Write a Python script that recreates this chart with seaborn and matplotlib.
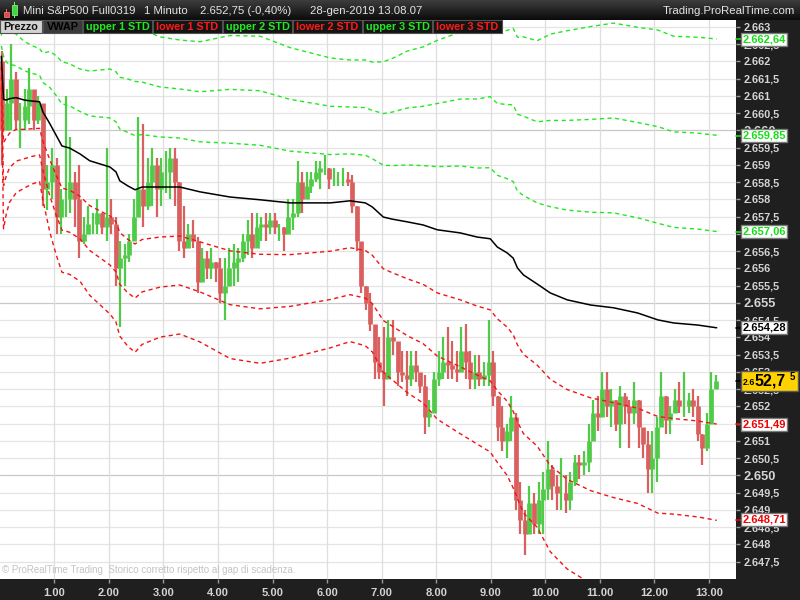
import numpy as np
import matplotlib
matplotlib.use("Agg")
import matplotlib.pyplot as plt
import seaborn as sns
from matplotlib.patches import Rectangle
from matplotlib.lines import Line2D
from matplotlib.colors import LinearSegmentedColormap

# ---------------- data ----------------
BAR_MIN = 5            # minutes per bar
first_open = 2662.0

# 5-minute bars from 0.00 to 13.08 (high, low, close), one row per hour
hi = [2662.3, 2661.2, 2662.5, 2661.7, 2660.8, 2661.2, 2661.8, 2661.0, 2661.0, 2660.2, 2659.0, 2659.5,
      2659.2, 2658.3, 2661.0, 2659.8, 2658.8, 2659.0, 2657.5, 2657.8, 2657.6, 2658.0, 2657.6, 2659.5,
      2658.0, 2657.5, 2656.8, 2656.7, 2657.0, 2658.0, 2660.4, 2660.2, 2659.2, 2659.5, 2659.2, 2659.2,
      2659.4, 2659.5, 2659.5, 2658.5, 2657.8, 2657.3, 2657.4, 2656.9, 2656.6, 2656.5, 2656.6, 2656.2,
      2656.3, 2656.3, 2656.6, 2656.7, 2656.6, 2657.0, 2657.4, 2657.6, 2657.6, 2657.5, 2657.6, 2657.6,
      2657.6, 2657.3, 2657.2, 2658.0, 2658.0, 2659.1, 2658.8, 2658.8, 2658.8, 2659.1, 2659.1, 2659.3,
      2658.9, 2658.9, 2658.8, 2658.9, 2658.8, 2658.7, 2657.8, 2656.6, 2655.5, 2655.3, 2654.1, 2654.0,
      2654.3, 2654.5, 2654.5, 2653.6, 2653.6, 2653.6, 2653.6, 2653.6, 2652.9, 2652.9, 2652.2, 2653.0,
      2653.6, 2654.0, 2654.3, 2653.9, 2653.6, 2654.3, 2654.4, 2653.6, 2653.5, 2653.5, 2653.3, 2654.5,
      2653.6, 2652.3, 2652.0, 2651.5, 2652.3, 2651.8, 2649.8, 2649.0, 2649.7, 2649.5, 2649.8, 2650.1,
      2651.0, 2650.3, 2650.0, 2650.5, 2650.0, 2650.1, 2650.6, 2650.6, 2650.7, 2651.5, 2652.2, 2652.3,
      2653.0, 2653.0, 2652.5, 2652.2, 2652.6, 2652.4, 2652.2, 2652.7, 2652.2, 2651.3, 2651.3, 2651.3,
      2651.7, 2653.0, 2652.3, 2652.0, 2652.5, 2652.7, 2653.0, 2652.4, 2652.5, 2652.3, 2651.2, 2651.8,
      2653.0, 2652.9]
lo = [2659.0, 2660.0, 2660.0, 2660.0, 2659.5, 2660.0, 2660.2, 2660.0, 2660.2, 2657.8, 2657.7, 2658.0,
      2657.0, 2657.0, 2657.5, 2657.6, 2657.2, 2656.3, 2656.7, 2657.0, 2657.0, 2657.0, 2657.0, 2656.8,
      2657.0, 2655.5, 2654.3, 2655.5, 2656.2, 2656.8, 2657.7, 2657.2, 2657.7, 2657.8, 2657.5, 2657.8,
      2658.2, 2658.0, 2657.8, 2656.5, 2656.3, 2656.6, 2656.6, 2655.3, 2655.8, 2655.7, 2655.7, 2655.6,
      2655.0, 2654.5, 2655.5, 2655.5, 2655.6, 2656.2, 2656.4, 2656.3, 2656.8, 2656.8, 2656.8, 2657.0,
      2657.0, 2656.8, 2656.5, 2657.0, 2657.1, 2657.5, 2657.6, 2658.0, 2658.2, 2658.5, 2658.3, 2658.7,
      2658.3, 2658.4, 2658.4, 2658.4, 2658.4, 2657.6, 2656.5, 2655.3, 2654.8, 2654.2, 2652.8, 2652.8,
      2652.0, 2653.2, 2653.5, 2652.6, 2652.7, 2652.3, 2652.6, 2652.7, 2652.4, 2651.2, 2651.4, 2651.8,
      2652.6, 2652.8, 2652.8, 2652.8, 2652.7, 2653.2, 2652.8, 2652.5, 2652.5, 2652.6, 2652.6, 2652.6,
      2652.0, 2651.0, 2650.7, 2650.5, 2651.0, 2649.0, 2648.3, 2647.7, 2648.3, 2648.3, 2648.3, 2648.3,
      2649.3, 2649.3, 2649.0, 2649.0, 2648.9, 2649.0, 2649.7, 2649.9, 2650.0, 2650.1, 2651.2, 2651.3,
      2652.0, 2651.7, 2651.4, 2651.3, 2650.8, 2651.5, 2650.8, 2651.5, 2650.8, 2650.5, 2649.5, 2649.5,
      2649.8, 2651.5, 2651.2, 2651.2, 2651.8, 2651.8, 2651.7, 2651.8, 2651.7, 2651.0, 2650.3, 2650.7,
      2651.5, 2652.5]
cl = [2660.0, 2660.8, 2661.5, 2660.3, 2660.3, 2660.7, 2661.2, 2660.3, 2660.8, 2658.3, 2658.5, 2659.0,
      2657.5, 2658.0, 2658.0, 2658.5, 2658.0, 2656.8, 2657.0, 2657.3, 2657.3, 2657.6, 2657.2, 2657.5,
      2657.3, 2656.0, 2656.3, 2656.4, 2656.8, 2657.5, 2658.3, 2657.8, 2658.5, 2659.0, 2658.3, 2658.8,
      2658.8, 2659.2, 2658.5, 2656.8, 2656.6, 2657.0, 2656.8, 2655.6, 2656.3, 2656.0, 2656.2, 2656.0,
      2655.3, 2655.5, 2656.0, 2656.2, 2656.3, 2656.8, 2657.0, 2656.6, 2657.2, 2657.3, 2657.2, 2657.4,
      2657.2, 2657.2, 2657.0, 2657.5, 2657.6, 2658.5, 2658.0, 2658.4, 2658.6, 2658.8, 2658.9, 2658.9,
      2658.6, 2658.6, 2658.6, 2658.6, 2658.5, 2657.8, 2656.8, 2655.5, 2655.0, 2654.4, 2653.3, 2653.0,
      2652.8, 2654.0, 2653.9, 2653.0, 2652.9, 2652.8, 2653.2, 2653.0, 2652.6, 2651.7, 2651.8, 2652.8,
      2653.0, 2653.3, 2653.2, 2653.1, 2653.0, 2653.6, 2653.3, 2652.8, 2653.0, 2652.8, 2652.9, 2653.3,
      2652.3, 2651.4, 2651.0, 2651.3, 2651.7, 2649.3, 2648.7, 2648.3, 2649.2, 2648.6, 2649.3, 2649.6,
      2650.2, 2649.7, 2649.5, 2649.5, 2649.3, 2649.8, 2650.4, 2650.3, 2650.4, 2651.0, 2651.8, 2651.7,
      2652.5, 2652.0, 2652.2, 2651.5, 2652.3, 2652.0, 2651.8, 2652.2, 2651.4, 2650.9, 2650.2, 2650.5,
      2651.4, 2652.3, 2651.6, 2651.8, 2652.2, 2652.0, 2652.0, 2652.2, 2652.0, 2651.2, 2650.8, 2651.5,
      2652.5, 2652.75]

# VWAP and its standard deviation (hours, price, points)
t_vw = [0.03, 0.07, 0.12, 0.18, 0.30, 0.45, 0.60, 0.73, 0.79, 0.92, 1.03, 1.14, 1.28, 1.47, 1.65,
        2.02, 2.13, 2.20, 2.35, 2.48, 2.61, 2.94, 3.30, 3.67, 4.22, 4.77, 5.32, 6.06, 6.42, 6.70,
        6.83, 7.03, 7.19, 7.47, 7.76, 8.02, 8.44, 8.75, 8.99, 9.12, 9.30, 9.41, 9.49, 9.60, 9.85,
        10.09, 10.40, 10.83, 11.25, 11.69, 12.06, 12.35, 12.79, 13.14]
vwap = [2662.15, 2660.90, 2660.88, 2660.92, 2660.95, 2660.88, 2660.85, 2660.83, 2660.54, 2660.19,
        2659.87, 2659.55, 2659.49, 2659.32, 2659.12, 2658.94, 2658.80, 2658.54, 2658.39, 2658.28,
        2658.36, 2658.36, 2658.36, 2658.22, 2658.07, 2657.99, 2657.90, 2657.90, 2657.96, 2657.90,
        2657.78, 2657.49, 2657.43, 2657.35, 2657.26, 2657.12, 2657.03, 2656.91, 2656.86, 2656.62,
        2656.45, 2656.30, 2656.01, 2655.81, 2655.55, 2655.29, 2655.09, 2654.94, 2654.86, 2654.71,
        2654.51, 2654.42, 2654.36, 2654.28]
sd = [0.30, 1.25, 1.10, 1.00, 0.92, 0.85, 0.80, 0.77, 0.85, 1.05, 1.15, 1.22, 1.22, 1.23, 1.30,
      1.42, 1.45, 1.50, 1.55, 1.57, 1.52, 1.45, 1.42, 1.45, 1.56, 1.58, 1.50, 1.40, 1.36, 1.38,
      1.40, 1.50, 1.55, 1.65, 1.72, 1.83, 1.94, 2.00, 2.06, 2.08, 2.15, 2.22, 2.23, 2.30, 2.35,
      2.50, 2.60, 2.69, 2.75, 2.76, 2.80, 2.77, 2.78, 2.79]

tag_values = [2662.64, 2659.85, 2657.06, 2654.28, 2651.49, 2648.71]
tag_labels = ["2.662,64", "2.659,85", "2.657,06", "2.654,28", "2.651,49", "2.648,71"]
last_price = 2652.75

legend_items = ["Prezzo", "VWAP", "upper 1 STD", "lower 1 STD", "upper 2 STD",
                "lower 2 STD", "upper 3 STD", "lower 3 STD"]
hours = list(range(1, 14))

GREEN_BAR, RED_BAR = "#4fcb48", "#d9605f"
GREEN_LINE, RED_LINE = "#22e822", "#f01414"

# ---------------- figure ----------------
sns.set_theme(style="white")
plt.rcParams["font.family"] = ["Liberation Sans", "DejaVu Sans"]

W, H = 800, 600
fig = plt.figure(figsize=(8, 6), dpi=100, facecolor="#1f1f1f")


def fx(px):
    return px / W


def fy(py):
    return 1 - py / H


def fig_rect(x0, y0, x1, y1, **kw):
    fig.patches.append(Rectangle((fx(x0), fy(y1)), (x1 - x0) / W, (y1 - y0) / H,
                                 transform=fig.transFigure, **kw))


ax = fig.add_axes([0, fy(579), fx(736), (579 - 20) / H])
ax.set_facecolor("white")
for s in ax.spines.values():
    s.set_visible(False)

# grid
for v in np.arange(2647.5, 2663.01, 0.5):
    ax.axhline(v, color="#c9c9c9" if v % 5 == 0 else "#e4e4e4", lw=0.9, zorder=0)
for h in hours:
    ax.axvline(h, color="#dedede", lw=0.9, zorder=0)

# price bars
cl_a = np.array(cl)
op = np.r_[first_open, cl_a[:-1]]
t_bar = (np.arange(len(cl)) * BAR_MIN + BAR_MIN / 2) / 60
cols = np.where(cl_a >= op, GREEN_BAR, RED_BAR)
ax.vlines(t_bar, lo, hi, colors=cols, linewidth=1.6, zorder=2)
ax.vlines(t_bar, np.minimum(op, cl_a), np.maximum(op, cl_a), colors=cols, linewidth=3.4, zorder=2)

# VWAP bands
vw = np.array(vwap)
sdv = np.array(sd)
for k in (1, 2, 3):
    sns.lineplot(x=t_vw, y=vw + k * sdv, ax=ax, color=GREEN_LINE, linewidth=1.0,
                 linestyle=(0, (3, 2.5)), errorbar=None, zorder=3)
    sns.lineplot(x=t_vw, y=vw - k * sdv, ax=ax, color=RED_LINE, linewidth=1.0,
                 linestyle=(0, (3, 2.5)), errorbar=None, zorder=3)
sns.lineplot(x=t_vw, y=vw, ax=ax, color="black", linewidth=1.1, errorbar=None, zorder=4)

ax.set_xlim(0.005, 13.494)
ax.set_ylim(2647.0, 2663.2)
ax.set_xlabel("")
ax.set_ylabel("")


def it_label(v):
    s = f"{v:,.1f}".replace(",", "X").replace(".", ",").replace("X", ".")
    return s[:-2] if s.endswith(",0") else s


yt = np.arange(2647.5, 2663.01, 0.5)
ax.yaxis.tick_right()
ax.set_yticks(yt)
ax.set_yticklabels([it_label(v) for v in yt])
ax.tick_params(axis="y", direction="out", length=3, width=1, color="#9a9a9a",
               labelcolor="#d4d4d4", pad=2.5, labelsize=7.8, right=True, left=False)
for v, lab in zip(yt, ax.get_yticklabels()):
    lab.set_fontweight("bold")
    if v % 5 == 0:
        lab.set_fontsize(9.3)

ax.set_xticks(hours)
ax.set_xticklabels([f"{h}.00" for h in hours])
ax.tick_params(axis="x", direction="out", length=3, width=1, color="#9a9a9a",
               labelcolor="#d4d4d4", pad=3.5, labelsize=8, bottom=True)
for lab in ax.get_xticklabels():
    lab.set_fontweight("bold")

ax.text(0.003, 0.008, "\u00a9 ProRealTime Trading  Storico corretto rispetto al gap di scadenza.",
        transform=ax.transAxes, fontsize=7, color="#c4c4c4", va="bottom", ha="left", zorder=5)

# value tags on the right axis
fig.canvas.draw()
tag_colors = ["#14e014", "#14e014", "#14e014", "#000000", "#f00000", "#f00000"]


def price_to_py(v):
    return H - ax.transData.transform((1, v))[1]


for v, lab, c in zip(tag_values, tag_labels, tag_colors):
    py = price_to_py(v)
    fig_rect(741, py - 6.5, 787, py + 6.5, facecolor="white", edgecolor="#7a7a7a", lw=1, zorder=5)
    fig.lines.append(Line2D([fx(736), fx(741)], [fy(py), fy(py)], color=c, lw=1.2,
                            transform=fig.transFigure))
    fig.text(fx(764), fy(py), lab, color=c, fontsize=8, fontweight="bold",
             ha="center", va="center", zorder=6)

py = price_to_py(last_price)
fig_rect(741, py - 10, 798, py + 10, facecolor="#ffd200", edgecolor="#5a5a5a", lw=1, zorder=5)
fig.lines.append(Line2D([fx(736), fx(741)], [fy(py), fy(py)], color="black", lw=1.2,
                        transform=fig.transFigure))
fig.text(fx(742.5), fy(py + 1.5), "2.6", fontsize=6.3, fontweight="bold", color="black",
         ha="left", va="center", zorder=6)
fig.text(fx(754.5), fy(py), "52,7", fontsize=11.5, fontweight="bold", color="black",
         ha="left", va="center", zorder=6)
fig.text(fx(789.5), fy(py - 4), "5", fontsize=7, fontweight="bold", color="black",
         ha="left", va="center", zorder=6)

# header bar
hax = fig.add_axes([0, fy(20), 1, 20 / H])
grad = np.linspace(0, 1, 20).reshape(-1, 1)
hax.imshow(grad, aspect="auto", cmap=LinearSegmentedColormap.from_list("hd", ["#3c3c3c", "#0c0c0c"]),
           extent=(0, 1, 0, 1))
hax.axis("off")

# candle icon
fig_rect(6, 9, 7, 18, facecolor="#ff6060", lw=0)
fig_rect(4, 11.5, 9, 16.5, facecolor="#e04848", edgecolor="#ff8080", lw=0.5)
fig_rect(14, 2, 15, 18, facecolor="#60ff60", lw=0)
fig_rect(12, 5, 17, 14.5, facecolor="#3cd83c", edgecolor="#90ff90", lw=0.5)

hdr_col = "#e4e4e4"
fig.text(fx(23), fy(10.5), "Mini S&P500 Full0319", color=hdr_col, fontsize=8.2, va="center")
fig.text(fx(144), fy(10.5), "1 Minuto", color=hdr_col, fontsize=8.2, va="center")
fig.text(fx(200), fy(10.5), "2.652,75 (-0,40%)", color=hdr_col, fontsize=8.2, va="center")
fig.text(fx(310), fy(10.5), "28-gen-2019 13.08.07", color=hdr_col, fontsize=8.2, va="center")
fig.text(fx(795), fy(10.5), "Trading.ProRealTime.com", color=hdr_col, fontsize=8.2,
         va="center", ha="right")

# indicator legend row
box_x = [0, 43, 83, 153, 223, 293, 363, 433, 503]
box_bg = ["#d2d2d2", "#3a3a3a"] + ["#141414"] * 6
box_fg = ["#111111", "#000000"] + [GREEN_LINE, "#ff1a1a"] * 3
for i, name in enumerate(legend_items):
    x0, x1 = box_x[i], box_x[i + 1] - 1
    fig_rect(x0, 20, x1, 33, facecolor=box_bg[i], edgecolor="#505050", lw=0.8, zorder=7)
    fig.text(fx((x0 + x1) / 2), fy(26.8), name, color=box_fg[i], fontsize=7.8,
             fontweight="bold", ha="center", va="center", zorder=8)

fig.savefig("out.png", dpi=100, facecolor=fig.get_facecolor())
